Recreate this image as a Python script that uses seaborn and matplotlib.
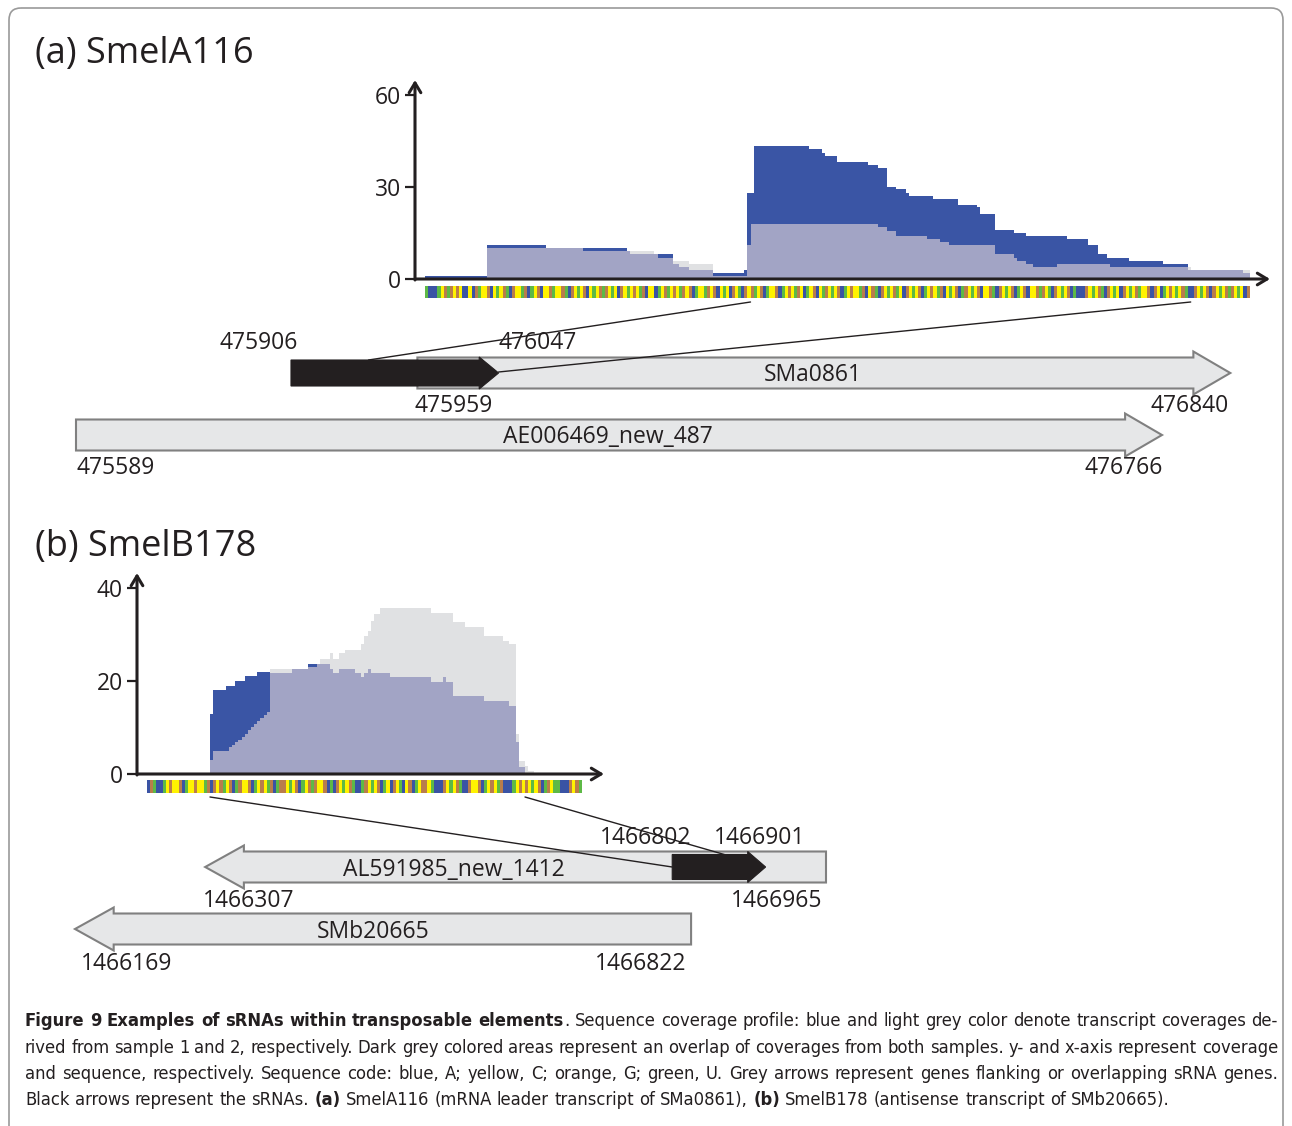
import numpy as np
import pandas as pd
import matplotlib
matplotlib.use("Agg")
import matplotlib.pyplot as plt
import seaborn as sns
from matplotlib.colors import ListedColormap
from matplotlib.patches import Polygon, FancyBboxPatch, ConnectionPatch
from matplotlib.transforms import blended_transform_factory

sns.set_theme(style="white")
plt.rcParams['font.family'] = ['Open Sans', 'DejaVu Sans']

# ------------------------------------------------------------------ data
# (a) SmelA116 coverage: segment starts (nt along the shown sequence), sample 1, sample 2
a_starts = [0, 20, 39, 51, 65, 66, 74, 75, 80, 82,
            85, 93, 103, 104, 105, 106, 124, 128, 129, 133,
            143, 146, 149, 152, 155, 156, 162, 164, 166, 169,
            172, 178, 179, 184, 190, 191, 194, 196, 204, 207,
            214, 217, 220, 221, 227, 238, 246, 247, 264]
a_end = 266
a_sample1 = [1, 11, 10, 10, 9, 8, 8, 8, 5, 4,
             3, 2, 3, 28, 28, 43.5, 42.3, 41.2, 40.2, 38.2,
             37.3, 36.2, 30.1, 29.2, 28.2, 27.2, 27.2, 26.1, 26.1, 26.1,
             24.1, 23.4, 21.1, 16, 15, 15, 14, 14, 14, 13,
             11, 8, 7, 7, 6, 5, 3, 3, 2]
a_sample2 = [0, 10, 10, 9, 9, 9, 8, 7, 6, 6,
             5, 1, 1, 11, 18, 18, 18, 18, 18, 18,
             18, 17, 15.5, 14, 14, 14, 13, 13, 12, 11,
             11, 11, 11, 8, 7, 6, 5, 4, 5, 5,
             5, 5, 5, 4, 4, 4, 4, 3, 3]
a_yticks = [0, 30, 60]
a_seq = ("UAAAUCGUGC" "GCAACAGUCC" "GACUCGUAGC" "CUGAUCGACC" "GUCCGUAGCU"
         "CGACUCGUGC" "UCAGCUCGCU" "GACCAUCGUC" "GCUGCGAUCC" "UGCGACUCAG"
         "CUAGCGUCGA" "UCCGAUCGCU" "GCAUCGACUG" "CUCGAUCGCC" "UGACGUAGCU"
         "CGUCAGCUCG" "AUCGCUGACU" "CGAUGCUCGA" "CCGUAGCUCG" "AUCGACCGUG"
         "CUAGCUCGAU" "AAAGCUCGUA" "GCUCAGCUCG" "UCCGAGCAUC" "GCUCGUAAGC"
         "UCGAGCUCGU" "GCUCAG")
a_srna_nt = (105, 247)                 # sRNA span on the shown sequence
a_genes = ["SMa0861", "AE006469_new_487"]
a_gene_start = [475959, 475589]
a_gene_end = [476840, 476766]
a_gene_strand = [1, 1]
a_srna_label = (475906, 476047)
a_srna_box = (475822, 476047)          # span of the black arrow as drawn

# (b) SmelB178 coverage
b_starts = [0, 20, 21, 22, 23, 24, 25, 26, 27, 28,
            29, 30, 31, 32, 33, 34, 35, 36, 37, 38,
            39, 46, 51, 54, 55, 58, 59, 61, 63, 66,
            68, 69, 70, 71, 72, 74, 77, 90, 94, 95,
            97, 101, 107, 113, 115, 117, 118, 120, 121, 123]
b_end = 138
b_sample1 = [0, 13, 18, 18, 18, 18, 19, 19, 19, 20,
             20, 20, 21, 21, 21, 21, 22, 22, 22, 22,
             21.8, 22.6, 23.7, 23.7, 23.7, 22.6, 21.8, 22.6, 22.6, 21.8,
             20.8, 21.8, 22.6, 21.8, 21.8, 21.8, 20.8, 19.8, 20.8, 19.8,
             16.8, 16.8, 15.8, 15.8, 14.7, 6.8, 1.4, 0, 0, 0]
b_sample2 = [0, 3, 5, 5, 5, 5, 5, 5.7, 6.3, 6.8,
             7.3, 7.9, 8.6, 9.4, 10.2, 10.8, 11.4, 12, 12.6, 13.3,
             22.6, 22.6, 23, 23.7, 24.7, 26, 24.7, 26, 26.7, 26.7,
             28, 29.7, 30.8, 33, 34.4, 35.7, 35.7, 34.7, 34.7, 34.7,
             32.7, 31.7, 29.7, 28.7, 28, 8.7, 2.9, 1.8, 0.7, 0]
b_yticks = [0, 20, 40]
b_seq = ("AGUAAUCGCC" "GAUCCGCCUG" "AGCGUCGAUG" "CCGAUCGCUG" "AUGGCUCGAU"
         "CGUGCCGAUA" "GCUCGUAAUG" "CUCGAUCAGC" "UACGAUCGGC" "UAAAGCUCGU"
         "AAGCCGAUCG" "CUGAAAUCGC" "GCUCGAUGCU" "UAAAGCGU")
b_srna_nt = (20, 120)
b_genes = ["AL591985_new_1412", "SMb20665"]
b_gene_start = [1466307, 1466169]
b_gene_end = [1466965, 1466822]
b_gene_strand = [-1, -1]
b_srna_label = (1466802, 1466901)
b_link_end = 1466859

nt_codes = {"A": 0, "C": 1, "G": 2, "U": 3}

caption_lines = [
    [("Figure 9 Examples of sRNAs within transposable elements", True),
     (". Sequence coverage profile: blue and light grey color denote transcript coverages de-", False)],
    [("rived from sample 1 and 2, respectively. Dark grey colored areas represent an overlap of "
      "coverages from both samples. y- and x-axis represent coverage", False)],
    [("and sequence, respectively. Sequence code: blue, A; yellow, C; orange, G; green, U. Grey "
      "arrows represent genes flanking or overlapping sRNA genes.", False)],
    [("Black arrows represent the sRNAs. ", False), ("(a)", True),
     (" SmelA116 (mRNA leader transcript of SMa0861), ", False), ("(b)", True),
     (" SmelB178 (antisense transcript of SMb20665).", False)],
]

# ------------------------------------------------------------------ style
INK = '#231F20'
BLUE = '#3A55A5'
LGREY = '#E0E1E3'
OVER = '#A2A4C5'
ARROW_FILL = '#E6E7E8'
ARROW_EDGE = '#808080'
NT_COLORS = ['#3A53A4', '#FFF200', '#B97D4B', '#5DB946']
LABEL_FS = 16.5

W, H = 1292, 1126
fig = plt.figure(figsize=(W / 100, H / 100), dpi=100)
fig.patch.set_facecolor('white')


def px_axes(x0, y0, x1, y1, z=1):
    ax = fig.add_axes([x0 / W, 1 - y1 / H, (x1 - x0) / W, (y1 - y0) / H])
    ax.set_facecolor('none')
    ax.set_zorder(z)
    return ax


def coverage_panel(box, seq_x0, nt_px, starts, end, s1, s2, yticks, y_px):
    ax = px_axes(*box)
    edges = [float(v) for v in list(starts) + [end]]
    s1 = np.asarray(s1, float)
    s2 = np.asarray(s2, float)
    df = pd.DataFrame({"pos": np.asarray(starts, float), "s1": s1, "s2": s2,
                       "both": np.minimum(s1, s2)})
    for col_name, col in (("s1", BLUE), ("s2", LGREY), ("both", OVER)):
        sns.histplot(data=df, x="pos", weights=col_name, bins=edges, element='step',
                     fill=True, color=col, alpha=1, linewidth=0, ax=ax)
    x0, y0, x1, y1 = box
    ax.set_xlim((x0 - seq_x0) / nt_px, (x1 - seq_x0) / nt_px)
    ax.set_ylim(0, (y1 - y0) / y_px)
    ax.set_xticks([])
    ax.set_yticks(yticks)
    ax.set_yticklabels([str(t) for t in yticks])
    ax.set_xlabel('')
    ax.set_ylabel('')
    for s in ax.spines.values():
        s.set_visible(False)
    ax.tick_params(axis='y', left=True, length=7, width=1.6, color=INK,
                   labelcolor=INK, labelsize=LABEL_FS, pad=3)
    ap = dict(arrowstyle='->,head_length=0.5,head_width=0.3', lw=2.2, color=INK,
              shrinkA=0, shrinkB=0, mutation_scale=14)
    ax.annotate('', xy=(0, 1), xytext=(0, -0.005), xycoords='axes fraction',
                arrowprops=ap, annotation_clip=False)
    ax.annotate('', xy=(1, 0), xytext=(0, 0), xycoords='axes fraction',
                arrowprops=ap, annotation_clip=False)
    return ax


def seq_bar(x0, y0, nt_px, height, seq):
    n = len(seq)
    ax = px_axes(x0, y0, x0 + n * nt_px, y0 + height)
    codes = np.array([[nt_codes[c] for c in seq]])
    sns.heatmap(codes, cmap=ListedColormap(NT_COLORS), vmin=-0.5, vmax=3.5,
                cbar=False, xticklabels=False, yticklabels=False, ax=ax, linewidths=0)
    ax.set_xlabel('')
    ax.set_ylabel('')
    return ax


def track_axes(box, g0, g1):
    x0, y0, x1, y1 = box
    ax = px_axes(x0, y0, x1, y1, z=2)
    ax.set_xlim(g0, g1)
    ax.set_ylim(y1, y0)
    ax.axis('off')
    return ax


def arrow(ax, start, end, strand, row, hb, hh, head, fc, ec, lw):
    if strand > 0:
        tail, tip, hs = start, end, end - head
    else:
        tail, tip, hs = end, start, start + head
    pts = [(tail, row - hb), (hs, row - hb), (hs, row - hh), (tip, row),
           (hs, row + hh), (hs, row + hb), (tail, row + hb)]
    ax.add_patch(Polygon(pts, closed=True, fc=fc, ec=ec, lw=lw, clip_on=False,
                         joinstyle='miter'))


def link(seq_ax, nt, row_from, trk, g, row_to):
    tA = blended_transform_factory(seq_ax.transData, trk.transData)
    con = ConnectionPatch(xyA=(nt, row_from), coordsA=tA, xyB=(g, row_to),
                          coordsB=trk.transData, color=INK, lw=1.0, zorder=5)
    fig.add_artist(con)


# ------------------------------------------------------------------ panel a
NT_A, NT_B = 3.1, 3.15
cov_a = coverage_panel((415, 80, 1270, 279), 425, NT_A, a_starts, a_end,
                       a_sample1, a_sample2, a_yticks, 3.067)
seq_a = seq_bar(425, 286, NT_A, 12, a_seq)
trk_a = track_axes((76, 300, 1162, 480), a_gene_start[1], a_gene_end[1])
rows_a = [373, 435]
for g, s, e, st, r in zip(a_genes, a_gene_start, a_gene_end, a_gene_strand, rows_a):
    arrow(trk_a, s, e, st, r, 15.5, 21.5, 40, ARROW_FILL, ARROW_EDGE, 1.5)
arrow(trk_a, a_srna_box[0], a_srna_box[1], 1, 373, 13, 16, 21, INK, INK, 0.8)
link(seq_a, a_srna_nt[0], 302, trk_a, a_srna_label[0], 360)
link(seq_a, a_srna_nt[1], 302, trk_a, a_srna_label[1], 372)

# ------------------------------------------------------------------ panel b
cov_b = coverage_panel((137, 573, 604, 774), 147, NT_B, b_starts, b_end,
                       b_sample1, b_sample2, b_yticks, 4.65)
seq_b = seq_bar(147, 780, NT_B, 13, b_seq)
trk_b = track_axes((75, 795, 826, 980), b_gene_start[1], b_gene_end[0])
rows_b = [867, 929]
for g, s, e, st, r in zip(b_genes, b_gene_start, b_gene_end, b_gene_strand, rows_b):
    arrow(trk_b, s, e, st, r, 15.5, 21.5, 41, ARROW_FILL, ARROW_EDGE, 1.5)
arrow(trk_b, b_srna_label[0], b_srna_label[1], 1, 867, 12.5, 15.5, 19, INK, INK, 0.8)
link(seq_b, b_srna_nt[0], 797, trk_b, b_srna_label[0], 867)
link(seq_b, b_srna_nt[1], 797, trk_b, b_link_end, 855)

# ------------------------------------------------------------------ overlay text
ov = fig.add_axes([0, 0, 1, 1])
ov.set_xlim(0, W)
ov.set_ylim(H, 0)
ov.axis('off')
ov.set_zorder(10)
ov.patch.set_alpha(0)
ov.add_patch(FancyBboxPatch((9, 8), W - 18, H + 40,
                            boxstyle="round,pad=0,rounding_size=12",
                            fc='none', ec='#9A9A9A', lw=1.2))

ov.text(35, 63, "(a) SmelA116", fontsize=26, color=INK, ha='left', va='baseline')
ov.text(35, 556, "(b) SmelB178", fontsize=26, color=INK, ha='left', va='baseline')


def lab(x, y, s):
    ov.text(x, y, s, fontsize=LABEL_FS, color=INK, ha='center', va='baseline')


lab(259, 349, str(a_srna_label[0]))
lab(538, 349, str(a_srna_label[1]))
lab(454, 412, str(a_gene_start[0]))
lab(1190, 412, str(a_gene_end[0]))
lab(116, 474, str(a_gene_start[1]))
lab(1124, 474, str(a_gene_end[1]))
lab(813, 381, a_genes[0])
lab(608, 443, a_genes[1])

lab(646, 844, str(b_srna_label[0]))
lab(760, 844, str(b_srna_label[1]))
lab(249, 907, str(b_gene_start[0]))
lab(777, 907, str(b_gene_end[0]))
lab(127, 970, str(b_gene_start[1]))
lab(641, 970, str(b_gene_end[1]))
lab(454, 876, b_genes[0])
lab(373, 938, b_genes[1])

# ------------------------------------------------------------------ caption
renderer = fig.canvas.get_renderer()
CAP_FAMILY = ['DejaVu Sans']
CAP_STRETCH = 'condensed'


def tw(s, bold, size):
    t = ov.text(0, 0, s, fontsize=size, family=CAP_FAMILY, fontstretch=CAP_STRETCH,
                fontweight='bold' if bold else 'normal')
    w = t.get_window_extent(renderer).width
    t.remove()
    return w


def words_of(runs):
    words = [[]]
    for text, bold in runs:
        parts = text.split(' ')
        for i, p in enumerate(parts):
            if i > 0:
                words.append([])
            if p:
                words[-1].append((p, bold))
    return [w for w in words if w]


CAP_L, CAP_R = 25, 1278
base = 15.0
line1 = words_of(caption_lines[0])
nat = sum(tw(p, b, base) for w in line1 for p, b in w) + (len(line1) - 1) * (tw("x x", False, base) - tw("xx", False, base))
cap_fs = base * (CAP_R - CAP_L) / nat
space_w = tw("x x", False, cap_fs) - tw("xx", False, cap_fs)
baselines = [1026, 1053, 1079, 1105]
for i, runs in enumerate(caption_lines):
    words = words_of(runs)
    widths = [sum(tw(p, b, cap_fs) for p, b in w) for w in words]
    if i < 3:
        gap = (CAP_R - CAP_L - sum(widths)) / (len(words) - 1)
    else:
        gap = space_w
    x = CAP_L
    for w, ww in zip(words, widths):
        xx = x
        for p, b in w:
            ov.text(xx, baselines[i], p, fontsize=cap_fs, family=CAP_FAMILY,
                    fontstretch=CAP_STRETCH,
                    fontweight='bold' if b else 'normal', color=INK,
                    ha='left', va='baseline')
            xx += tw(p, b, cap_fs)
        x += ww + gap

fig.savefig("out.png", dpi=100, facecolor='white')
